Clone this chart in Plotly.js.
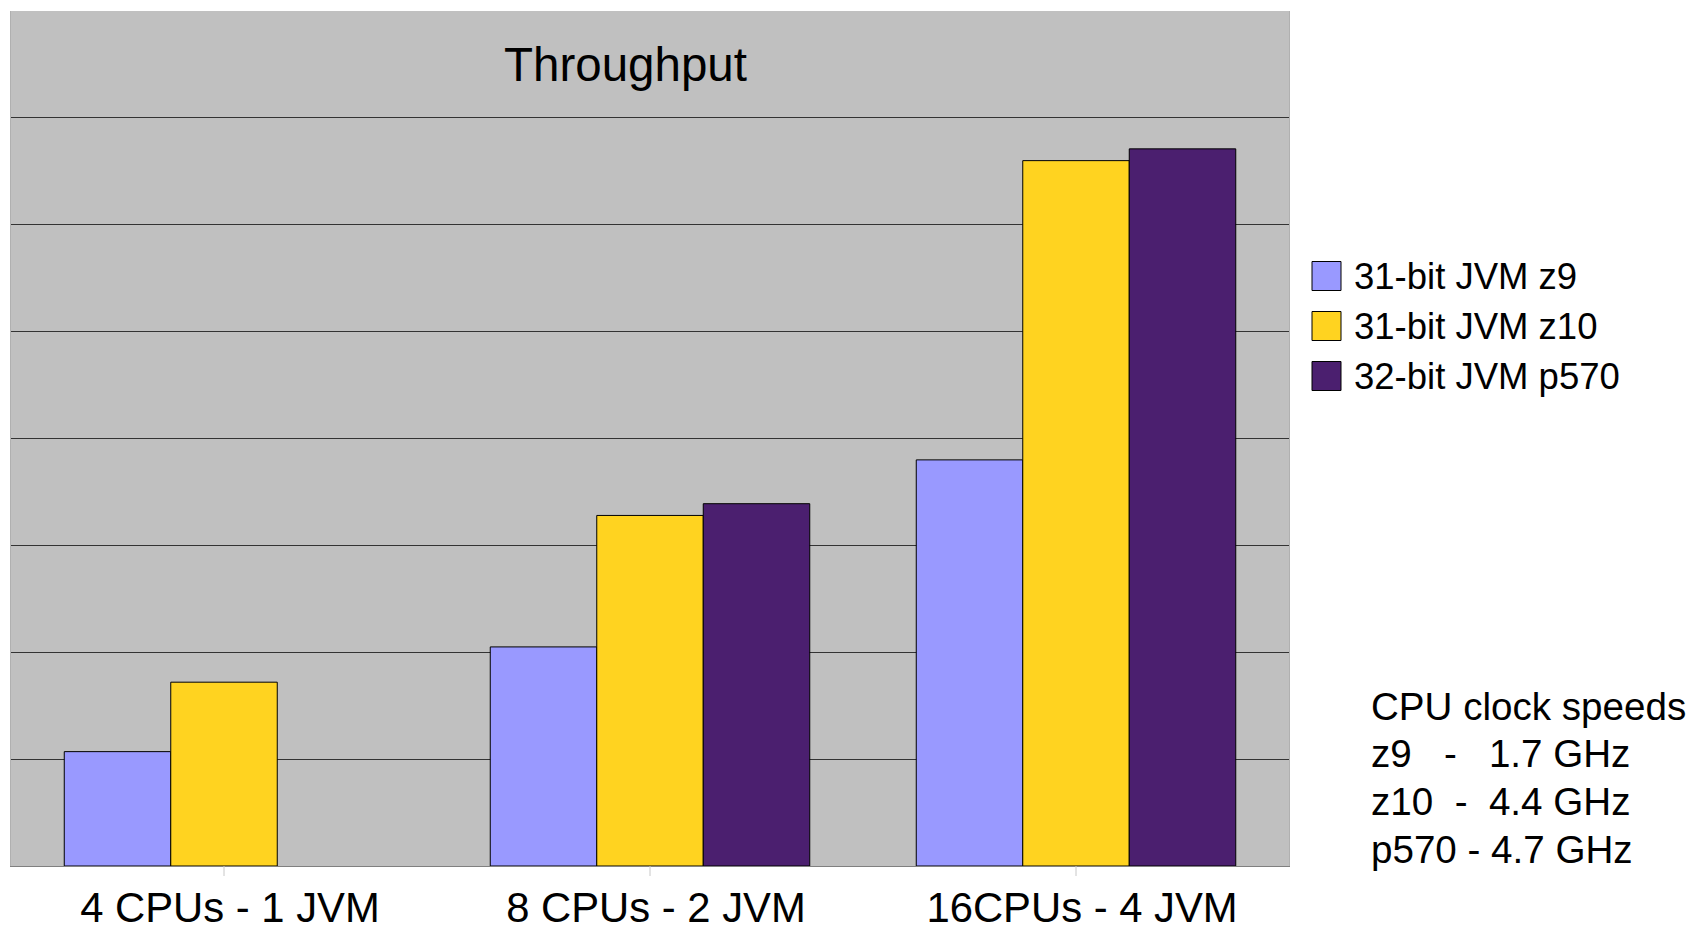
<!DOCTYPE html>
<html>
<head>
<meta charset="utf-8">
<script src="https://cdn.plot.ly/plotly-3.0.1.min.js"></script>
<style>
  html, body { margin: 0; padding: 0; background: #ffffff; }
  #chart { width: 1700px; height: 937px; }
</style>
</head>
<body>
<div id="chart"></div>
<script>
// Throughput per configuration, relative units
const categories = ["4 CPUs - 1 JVM", "8 CPUs - 2 JVM", "16CPUs - 4 JVM"];
const seriesNames = ["31-bit JVM z9", "31-bit JVM z10", "32-bit JVM p570"];
const z9Values = [1.07, 2.05, 3.80];
const z10Values = [1.72, 3.28, 6.60];
const p570Values = [null, 3.39, 6.71];
const seriesColors = ["#9999FF", "#FFD320", "#4B1F6F"];
const clockNotes = [
  "CPU clock speeds",
  "z9\u00A0\u00A0\u00A0-\u00A0\u00A0\u00A01.7 GHz",
  "z10\u00A0\u00A0-\u00A0\u00A04.4 GHz",
  "p570 - 4.7 GHz"
];

const FONT = "Liberation Sans, Arial, sans-serif";
const seriesValues = [z9Values, z10Values, p570Values];

const traces = seriesNames.map((name, i) => ({
  type: "bar",
  name: name,
  x: categories,
  y: seriesValues[i],
  marker: { color: seriesColors[i], line: { color: "#000000", width: 1 } },
  hoverinfo: "x+y+name"
}));

// Plot-area geometry in pixels (used to place the side legend and notes)
const W = 1700, H = 937;
const M = { l: 11, r: 411, t: 11, b: 71 };
const plotW = W - M.l - M.r, plotH = H - M.t - M.b;
const px = x => (x - M.l) / plotW;
const py = y => (H - M.b - y) / plotH;

const shapes = [];
const annotations = [];

// Short light tick marks under each category
categories.forEach(cat => {
  shapes.push({
    type: "line", xref: "x", yref: "paper",
    x0: cat, x1: cat, y0: 0, y1: -10 / plotH,
    line: { color: "#c8c8c8", width: 1 }
  });
});

// Title
annotations.push({
  xref: "paper", yref: "paper", x: px(625), y: py(64),
  xanchor: "center", yanchor: "middle", showarrow: false,
  text: "Throughput", font: { family: FONT, size: 47.5, color: "#000000" }
});

// Legend with large square swatches
seriesNames.forEach((name, i) => {
  const cy = 276 + i * 50;
  shapes.push({
    type: "rect", xref: "paper", yref: "paper",
    x0: px(1312), x1: px(1341), y0: py(cy + 14.5), y1: py(cy - 14.5),
    fillcolor: seriesColors[i], line: { color: "#000000", width: 1 }
  });
  annotations.push({
    xref: "paper", yref: "paper", x: px(1352), y: py(cy),
    xanchor: "left", yanchor: "middle", showarrow: false,
    text: name, font: { family: FONT, size: 36.5, color: "#000000" }
  });
});

// Clock-speed notes
clockNotes.forEach((line, i) => {
  annotations.push({
    xref: "paper", yref: "paper", x: px(1369), y: py(706 + i * 47.7),
    xanchor: "left", yanchor: "middle", showarrow: false,
    text: line, font: { family: FONT, size: 38.6, color: "#000000" }
  });
});

const layout = {
  width: W, height: H,
  margin: M,
  paper_bgcolor: "#ffffff",
  plot_bgcolor: "#C0C0C0",
  showlegend: false,
  barmode: "group",
  bargap: 0.25,
  bargroupgap: 0,
  font: { family: FONT, color: "#000000" },
  xaxis: {
    type: "category",
    showgrid: false,
    showline: true, linecolor: "#808080", linewidth: 1,
    ticks: "",
    ticklabelstandoff: 5,
    ticklabelshift: 6,
    tickfont: { family: FONT, size: 41.8, color: "#000000" },
    fixedrange: true
  },
  yaxis: {
    range: [0, 8], dtick: 1,
    showticklabels: false, ticks: "",
    showgrid: true, gridcolor: "#333333", gridwidth: 1.2,
    zeroline: false,
    showline: true, mirror: true, linecolor: "#b0b0b0", linewidth: 1,
    fixedrange: true
  },
  shapes: shapes,
  annotations: annotations
};

Plotly.newPlot("chart", traces, layout, { displayModeBar: false, staticPlot: true });
</script>
</body>
</html>
